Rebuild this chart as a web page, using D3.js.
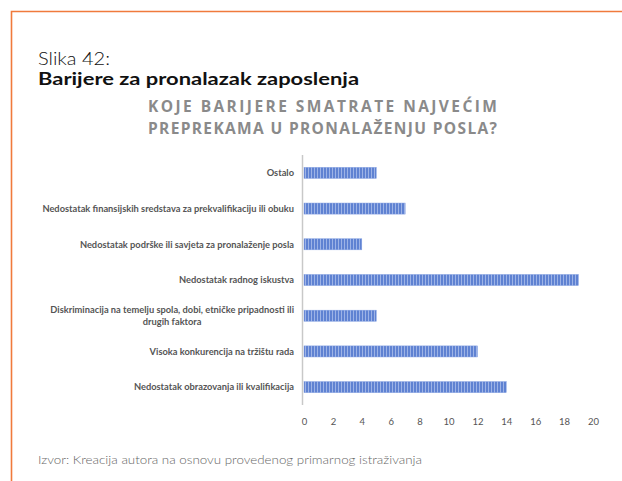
<!DOCTYPE html>
<html>
<head>
<meta charset="utf-8">
<script src="https://cdn.jsdelivr.net/npm/d3@7"></script>
<style>
  html, body { margin: 0; padding: 0; background: #fff; }
  svg { display: block; }
</style>
</head>
<body>
<svg id="chart" width="622" height="481"></svg>
<script>
// Survey answers, listed top to bottom as shown on the chart
const categories = [
  "Ostalo",
  "Nedostatak finansijskih sredstava za prekvalifikaciju ili obuku",
  "Nedostatak podrške ili savjeta za pronalaženje posla",
  "Nedostatak radnog iskustva",
  "Diskriminacija na temelju spola, dobi, etničke pripadnosti ili|drugih faktora",
  "Visoka konkurencija na tržištu rada",
  "Nedostatak obrazovanja ili kvalifikacija"
];
const counts = [5, 7, 4, 19, 5, 12, 14];
const xTicks = [0, 2, 4, 6, 8, 10, 12, 14, 16, 18, 20];

const figureLabel = "Slika 42:";
const figureTitle = "Barijere za pronalazak zaposlenja";
const chartTitle = ["KOJE BARIJERE SMATRATE NAJVEĆIM", "PREPREKAMA U PRONALAŽENJU POSLA?"];
const sourceNote = "Izvor: Kreacija autora na osnovu provedenog primarnog istraživanja";

const svg = d3.select("#chart");

// Orange frame (top and left edges)
svg.append("path")
  .attr("d", "M11.5,481 L11.5,11.5 L622,11.5")
  .attr("fill", "none")
  .attr("stroke", "#f07a3c")
  .attr("stroke-width", 1.6);

// Figure caption
svg.append("text")
  .attr("x", 38).attr("y", 64.5)
  .attr("font-family", "Lato, sans-serif")
  .attr("font-weight", 300)
  .attr("font-size", 18.5)
  .attr("fill", "#111")
  .attr("textLength", 72)
  .attr("lengthAdjust", "spacingAndGlyphs")
  .text(figureLabel);

svg.append("text")
  .attr("x", 38).attr("y", 85)
  .attr("font-family", "Lato, sans-serif")
  .attr("font-weight", 700)
  .attr("font-size", 16.5)
  .attr("fill", "#111")
  .attr("textLength", 321)
  .attr("lengthAdjust", "spacingAndGlyphs")
  .text(figureTitle);

// Chart title
chartTitle.forEach((line, i) => {
  svg.append("text")
    .attr("x", 148).attr("y", 112 + i * 21.5)
    .attr("font-family", "'Open Sans', sans-serif")
    .attr("font-weight", 700)
    .attr("font-size", 15.5)
    .attr("fill", "#8a8a8a")
    .attr("textLength", 349)
    .attr("lengthAdjust", "spacing")
    .text(line);
});

// Striped bar fill
const defs = svg.append("defs");
const pat = defs.append("pattern")
  .attr("id", "barStripes")
  .attr("patternUnits", "userSpaceOnUse")
  .attr("width", 3).attr("height", 20);
pat.append("rect").attr("width", 3).attr("height", 20).attr("fill", "#5f82d2");
pat.append("rect").attr("x", 2).attr("width", 1).attr("height", 20).attr("fill", "#9db3e6");

// Scales
const x = d3.scaleLinear().domain([0, 20]).range([304, 593]);
const y = d3.scaleBand().domain(categories).range([155, 405]).paddingInner(0.69).paddingOuter(0.345);

// Bars
svg.append("g").selectAll("rect")
  .data(categories.map((c, i) => ({ c, v: counts[i] })))
  .join("rect")
  .attr("x", x(0))
  .attr("y", d => y(d.c))
  .attr("width", d => x(d.v) - x(0))
  .attr("height", y.bandwidth())
  .attr("fill", "url(#barStripes)")
  .attr("stroke", "#86a1e2")
  .attr("stroke-width", 0.5);

// Vertical category axis line
svg.append("line")
  .attr("x1", 302.5).attr("x2", 302.5)
  .attr("y1", 155).attr("y2", 405)
  .attr("stroke", "#c8c8c8")
  .attr("stroke-width", 1.5);

// Category labels
const labelG = svg.append("g")
  .attr("font-family", "Lato, sans-serif")
  .attr("font-weight", 700)
  .attr("font-size", 9.3)
  .attr("fill", "#555");

categories.forEach(c => {
  const lines = c.split("|");
  const cy = y(c) + y.bandwidth() / 2;
  if (lines.length === 1) {
    labelG.append("text")
      .attr("x", 294).attr("y", cy)
      .attr("dy", "0.35em")
      .attr("text-anchor", "end")
      .text(lines[0]);
  } else {
    // multi-line label: lines centred within a right-aligned block
    const t0 = labelG.append("text")
      .attr("x", 294).attr("y", cy - 6)
      .attr("dy", "0.35em")
      .attr("text-anchor", "end")
      .text(lines[0]);
    const w = t0.node().getComputedTextLength();
    const mid = 294 - w / 2;
    lines.slice(1).forEach((ln, k) => {
      labelG.append("text")
        .attr("x", mid).attr("y", cy + 6 + k * 12)
        .attr("dy", "0.35em")
        .attr("text-anchor", "middle")
        .text(ln);
    });
  }
});

// Value axis
const xAxis = svg.append("g")
  .attr("transform", "translate(0,405)")
  .call(d3.axisBottom(x).tickValues(xTicks).tickSize(0).tickPadding(13));
xAxis.select(".domain").remove();
xAxis.selectAll("text")
  .attr("font-family", "Lato, sans-serif")
  .attr("font-size", 9.5)
  .attr("fill", "#555");

// Source note
svg.append("text")
  .attr("x", 38).attr("y", 464)
  .attr("font-family", "Lato, sans-serif")
  .attr("font-weight", 300)
  .attr("font-size", 12)
  .attr("fill", "#666")
  .attr("textLength", 384)
  .attr("lengthAdjust", "spacingAndGlyphs")
  .text(sourceNote);
</script>
</body>
</html>
